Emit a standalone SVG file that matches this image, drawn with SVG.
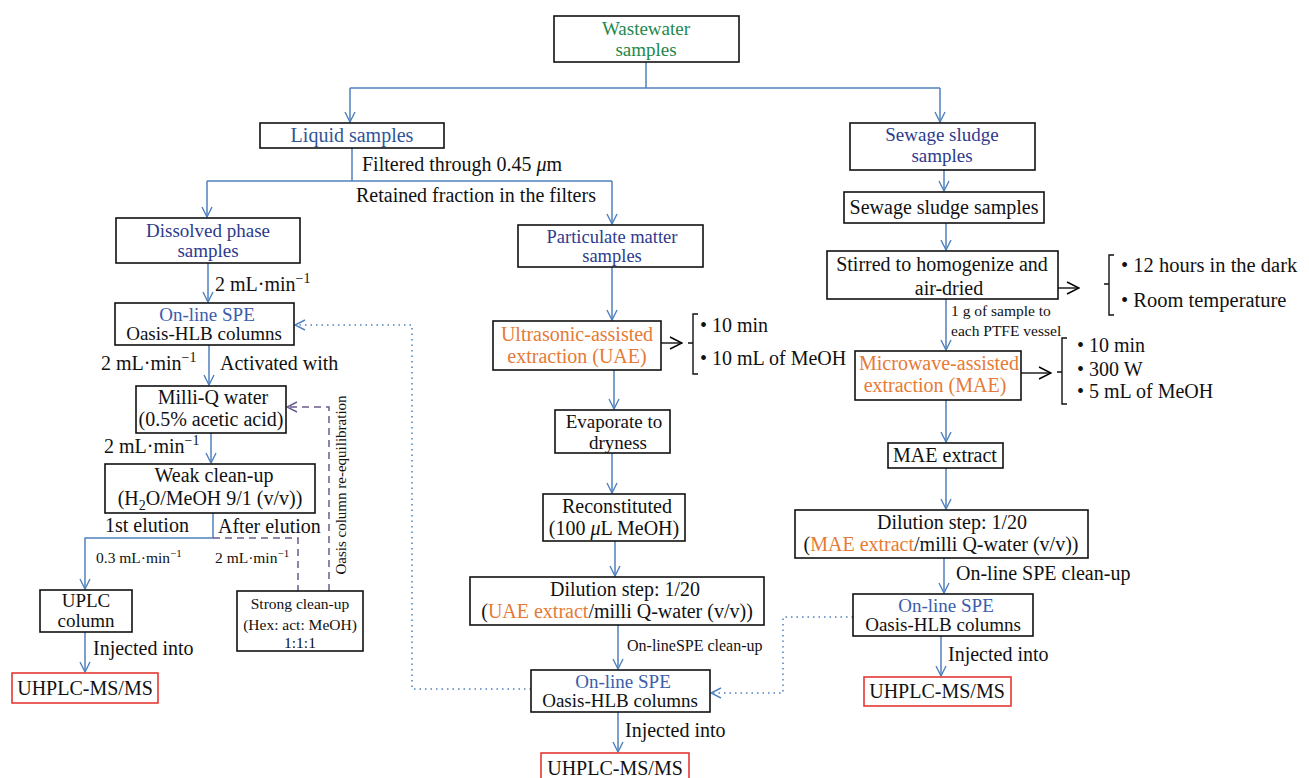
<svg xmlns="http://www.w3.org/2000/svg" width="1309" height="778" viewBox="0 0 1309 778">
<defs>
<marker id="ab" viewBox="0 0 12 12" refX="11" refY="6" markerWidth="12" markerHeight="12" markerUnits="userSpaceOnUse" orient="auto">
<path d="M1,1 L11,6 L1,11" fill="none" stroke="#4f81bd" stroke-width="1.4"/>
</marker>
<marker id="ak" viewBox="0 0 14 14" refX="13" refY="7" markerWidth="14" markerHeight="14" markerUnits="userSpaceOnUse" orient="auto">
<path d="M1,1 L13,7 L1,13" fill="none" stroke="#000" stroke-width="1.4"/>
</marker>
<marker id="ap" viewBox="0 0 12 12" refX="11" refY="6" markerWidth="12" markerHeight="12" markerUnits="userSpaceOnUse" orient="auto">
<path d="M1,1 L11,6 L1,11" fill="none" stroke="#6b5b8e" stroke-width="1.4"/>
</marker>
</defs>
<style>
text{font-family:"Liberation Serif","Times New Roman",serif;font-size:20px;fill:#111}
.c{text-anchor:middle}
.t{font-size:19px}
.s{font-size:15.5px}
.m{font-size:20px}
.g{fill:#23884a}
.nb{fill:#2e3a8c}
.lb{fill:#2f5597}
.bl{fill:#3b5dab}
.or{fill:#e67a36}
.box{fill:#fff;stroke:#111;stroke-width:1.6}
.red{fill:#fff;stroke:#e53935;stroke-width:1.6}
.cn{fill:none;stroke:#4f81bd;stroke-width:1.5}
.dash{fill:none;stroke:#6b5b8e;stroke-width:1.5;stroke-dasharray:7,5}
.dot{fill:none;stroke:#4f81bd;stroke-width:1.5;stroke-dasharray:1.5,4}
.blk{fill:none;stroke:#111;stroke-width:1.4}
</style>

<g id="connectors">
<path class="cn" d="M646,62 V88"/>
<path class="cn" d="M350,88 H940"/>
<path class="cn" d="M350,88 V122" marker-end="url(#ab)"/>
<path class="cn" d="M940,88 V122" marker-end="url(#ab)"/>
<path class="cn" d="M352,148 V181"/>
<path class="cn" d="M207,181 H612"/>
<path class="cn" d="M207,181 V217" marker-end="url(#ab)"/>
<path class="cn" d="M612,181 V224" marker-end="url(#ab)"/>
<path class="cn" d="M208,263 V302" marker-end="url(#ab)"/>
<path class="cn" d="M209,345 V385" marker-end="url(#ab)"/>
<path class="cn" d="M211,433 V463" marker-end="url(#ab)"/>
<path class="cn" d="M213,513 V538 H85 V589" marker-end="url(#ab)"/>
<path class="dash" d="M213,538 H298 V591"/>
<path class="dash" d="M329,591 V407 H287" marker-end="url(#ap)"/>
<path class="cn" d="M85,632 V672" marker-end="url(#ab)"/>
<path class="cn" d="M612,267 V320" marker-end="url(#ab)"/>
<path class="cn" d="M614,370 V409" marker-end="url(#ab)"/>
<path class="cn" d="M612,453 V493" marker-end="url(#ab)"/>
<path class="cn" d="M615,541 V576" marker-end="url(#ab)"/>
<path class="cn" d="M618,625 V669" marker-end="url(#ab)"/>
<path class="cn" d="M618,712 V752" marker-end="url(#ab)"/>
<path class="cn" d="M944,170 V191" marker-end="url(#ab)"/>
<path class="cn" d="M946,223 V250" marker-end="url(#ab)"/>
<path class="cn" d="M946,299 V350" marker-end="url(#ab)"/>
<path class="cn" d="M946,400 V442" marker-end="url(#ab)"/>
<path class="cn" d="M946,468 V509" marker-end="url(#ab)"/>
<path class="cn" d="M944,558 V593" marker-end="url(#ab)"/>
<path class="cn" d="M941,636 V676" marker-end="url(#ab)"/>
<path class="dot" d="M531,689 H412 V325 H295" marker-end="url(#ab)"/>
<path class="dot" d="M853,617 H783 V693 H711" marker-end="url(#ab)"/>
<path class="blk" d="M661,343 H682" marker-end="url(#ak)"/>
<path class="blk" d="M1058,288 H1079" marker-end="url(#ak)"/>
<path class="blk" d="M1021,373 H1051" marker-end="url(#ak)"/>
<path class="blk" d="M698,314 H693 V374 H698 M693,343 H688"/>
<path class="blk" d="M1114,255 H1109 V315 H1114 M1109,284 H1104"/>
<path class="blk" d="M1067,338 H1062 V404 H1067 M1062,372 H1057"/>
</g>

<g id="labels">
<text x="362" y="171">Filtered through 0.45 <tspan font-style="italic">μ</tspan>m</text>
<text x="356" y="202">Retained fraction in the filters</text>
<text class="m" x="215" y="291">2 mL·min<tspan font-size="14" dy="-8">−1</tspan></text>
<text class="m" x="101" y="370">2 mL·min<tspan font-size="14" dy="-8">−1</tspan></text>
<text class="m" x="220" y="370">Activated with</text>
<text class="m" x="104" y="453">2 mL·min<tspan font-size="14" dy="-8">−1</tspan></text>
<text x="105" y="532">1st elution</text>
<text x="218" y="533">After elution</text>
<text class="s" x="96" y="563">0.3 mL·min<tspan font-size="11" dy="-6">−1</tspan></text>
<text class="s" x="215" y="563">2 mL·min<tspan font-size="11" dy="-6">−1</tspan></text>
<text x="0" y="0" style="font-size:15px" transform="translate(346,485) rotate(-90)" text-anchor="middle">Oasis column re-equilibration</text>
<text class="m" x="93" y="655">Injected into</text>
<text x="627" y="651" style="font-size:16px">On-lineSPE clean-up</text>
<text class="m" x="625" y="737">Injected into</text>
<text class="s" x="951" y="316">1 g of sample to</text>
<text class="s" x="951" y="336">each PTFE vessel</text>
<text class="m" x="956" y="580">On-line SPE clean-up</text>
<text class="m" x="948" y="661">Injected into</text>
<text class="m" x="700" y="332">• 10 min</text>
<text class="m" x="700" y="365">• 10 mL of MeOH</text>
<text x="1121" y="272" style="font-size:20.5px">• 12 hours in the dark</text>
<text x="1121" y="307" style="font-size:20.5px">• Room temperature</text>
<text class="m" x="1077" y="352">• 10 min</text>
<text class="m" x="1077" y="376">• 300 W</text>
<text class="m" x="1077" y="398">• 5 mL of MeOH</text>
</g>

<g id="wastewater"><rect class="box" x="554" y="16" width="185" height="46"/><text class="c g t" x="646" y="35">Wastewater</text><text class="c g t" x="646" y="56">samples</text></g>
<g id="liquid"><rect class="box" x="260" y="123" width="184" height="25"/><text class="c lb" x="352" y="142">Liquid samples</text></g>
<g id="sludge"><rect class="box" x="850" y="123" width="185" height="47"/><text class="c nb t" x="942" y="141">Sewage sludge</text><text class="c nb t" x="942" y="162">samples</text></g>
<g id="dissolved"><rect class="box" x="116" y="218" width="184" height="45"/><text class="c nb t" x="208" y="237">Dissolved phase</text><text class="c nb t" x="208" y="257">samples</text></g>
<g id="particulate"><rect class="box" x="518" y="225" width="185" height="42"/><text class="c nb" style="font-size:18.5px" x="612" y="243">Particulate matter</text><text class="c nb" style="font-size:18.5px" x="612" y="262">samples</text></g>
<g id="spe-left"><rect class="box" x="115" y="303" width="179" height="42"/><text class="c bl t" x="207" y="321">On-line SPE</text><text class="c t" x="204" y="340">Oasis-HLB columns</text></g>
<g id="milliq"><rect class="box" x="136" y="386" width="150" height="47"/><text class="c" x="213" y="404">Milli-Q water</text><text class="c" x="211" y="426">(0.5% acetic acid)</text></g>
<g id="weak"><rect class="box" x="105" y="464" width="210" height="49"/><text class="c" x="214" y="482">Weak clean-up</text><text class="c" x="210" y="505">(H<tspan font-size="14" dy="5">2</tspan><tspan dy="-5">O/MeOH 9/1 (v/v))</tspan></text></g>
<g id="uplc"><rect class="box" x="40" y="590" width="92" height="42"/><text class="c t" x="86" y="607">UPLC</text><text class="c t" x="86" y="627">column</text></g>
<g id="uhplc-left"><rect class="red" x="12" y="673" width="146" height="30"/><text class="c" x="85" y="695">UHPLC-MS/MS</text></g>
<g id="strong"><rect class="box" x="237" y="591" width="126" height="60"/><text class="c s" x="300" y="609">Strong clean-up</text><text class="c s" x="300" y="630">(Hex: act: MeOH)</text><text class="c s" x="300" y="648">1:1:1</text></g>
<g id="uae"><rect class="box" x="493" y="321" width="168" height="49"/><text class="c or" x="577" y="341">Ultrasonic-assisted</text><text class="c or" x="577" y="363">extraction (UAE)</text></g>
<g id="evaporate"><rect class="box" x="555" y="410" width="115" height="43"/><text class="c t" x="614" y="428">Evaporate to</text><text class="c t" x="618" y="449">dryness</text></g>
<g id="reconstituted"><rect class="box" x="543" y="494" width="142" height="47"/><text class="c" x="617" y="513">Reconstituted</text><text class="c" x="614" y="535">(100 <tspan font-style="italic">μ</tspan>L MeOH)</text></g>
<g id="dilution-center"><rect class="box" x="470" y="577" width="294" height="48"/><text class="c" x="625" y="596">Dilution step: 1/20</text><text class="c" x="617" y="618">(<tspan class="or">UAE extract</tspan>/milli Q-water (v/v))</text></g>
<g id="spe-center"><rect class="box" x="531" y="670" width="179" height="42"/><text class="c bl t" x="623" y="688">On-line SPE</text><text class="c t" x="620" y="707">Oasis-HLB columns</text></g>
<g id="uhplc-center"><rect class="red" x="541" y="753" width="148" height="30"/><text class="c" x="615" y="775">UHPLC-MS/MS</text></g>
<g id="sludge2"><rect class="box" x="844" y="192" width="200" height="31"/><text class="c" x="944" y="214">Sewage sludge samples</text></g>
<g id="stirred"><rect class="box" x="827" y="251" width="231" height="48"/><text class="c" x="942" y="271">Stirred to homogenize and</text><text class="c" x="949" y="295">air-dried</text></g>
<g id="mae"><rect class="box" x="855" y="351" width="166" height="49"/><text class="c or" x="939" y="370">Microwave-assisted</text><text class="c or" x="935" y="392">extraction (MAE)</text></g>
<g id="mae-extract"><rect class="box" x="888" y="443" width="115" height="25"/><text class="c" x="945" y="462">MAE extract</text></g>
<g id="dilution-right"><rect class="box" x="795" y="510" width="293" height="48"/><text class="c" x="952" y="529">Dilution step: 1/20</text><text class="c" x="941" y="551">(<tspan class="or">MAE extract</tspan>/milli Q-water (v/v))</text></g>
<g id="spe-right"><rect class="box" x="853" y="594" width="180" height="42"/><text class="c bl t" x="946" y="612">On-line SPE</text><text class="c t" x="943" y="631">Oasis-HLB columns</text></g>
<g id="uhplc-right"><rect class="red" x="864" y="677" width="147" height="29"/><text class="c" x="937" y="698">UHPLC-MS/MS</text></g>
</svg>
